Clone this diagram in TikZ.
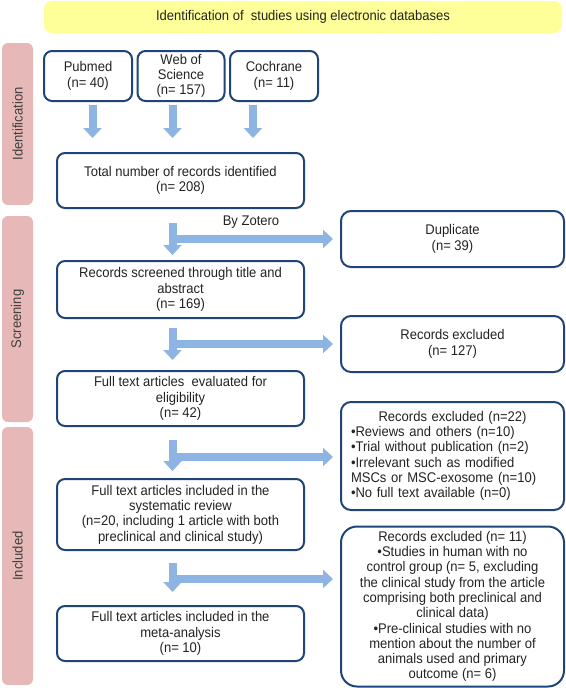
\documentclass[tikz,border=0pt]{standalone}
\usepackage{fontspec}
\setmainfont{Liberation Sans}[FakeStretch=0.93]
\usetikzlibrary{arrows.meta,calc}
\definecolor{boxblue}{RGB}{31,69,120}
\definecolor{arrowblue}{RGB}{141,180,226}
\definecolor{pinkbar}{RGB}{230,184,183}
\definecolor{bannery}{RGB}{255,255,153}
\definecolor{txt}{RGB}{35,35,35}
\begin{document}
\begin{tikzpicture}[x=1pt,y=-1pt,
  every node/.style={font=\fontsize{14}{15.3}\selectfont, text=txt},
  box/.style={draw=boxblue, line width=2pt, rounded corners=8pt, fill=white, align=center, inner sep=2pt},
  lbox/.style={box, minimum width=247pt},
  rbox/.style={box, minimum width=223pt, rounded corners=10pt},
  srcbox/.style={box, minimum height=50pt},
  barrow/.style={draw=arrowblue, line width=8pt, -{Triangle[width=18pt,length=10pt]}},
  sidebar/.style={fill=pinkbar, rounded corners=6pt, rotate=90, text=black!75, inner sep=0pt, minimum height=31pt},
  banner/.style={fill=bannery, rounded corners=8pt, minimum width=518pt, minimum height=32pt, inner sep=0pt}
]
\useasboundingbox (0,0) rectangle (565,688);

% banner
\node[banner] (ban) at (303,17) {Identification of\ \ studies using electronic databases};

% side bars
\node[sidebar, minimum width=162pt] (sid) at (17.5,124) {Identification};
\node[sidebar, minimum width=206pt] (sscr) at (17.5,319) {Screening};
\node[sidebar, minimum width=258pt] (sinc) at (17.5,556) {Included};

% sources
\node[srcbox, minimum width=88pt] (pub) at (88,76) {Pubmed\\(n= 40)};
\node[srcbox, minimum width=87pt] (wos) at (181,76) {Web of\\Science\\(n= 157)};
\node[srcbox, minimum width=88pt] (coch) at (274,76) {Cochrane\\(n= 11)};

% left column
\node[lbox, minimum height=55pt] (tot) at (180.5,180.5) {Total number of records identified\\(n= 208)};
\node[lbox, minimum height=57pt] (scr) at (180.5,289.5) {Records screened through title and\\abstract\\(n= 169)};
\node[lbox, minimum height=55pt] (eval) at (180.5,398.5) {Full text articles\ \ evaluated for\\eligibility\\(n= 42)};
\node[lbox, minimum height=71pt] (sys) at (180.5,514.5) {Full text articles included in the\\systematic review\\(n=20, including 1 article with both\\preclinical and clinical study)};
\node[lbox, minimum height=55pt] (meta) at (180.5,633.5) {Full text articles included in the\\meta-analysis\\(n= 10)};

% right column
\node[rbox, minimum height=56pt] (dup) at (452.5,239) {Duplicate\\(n= 39)};
\node[rbox, minimum height=56pt] (ex1) at (452.5,344) {Records excluded\\(n= 127)};
\node[rbox, minimum height=108pt, text width=203pt, align=left] (ex2) at (452.5,456)
  {\hspace*{\fill}Records excluded (n=22)\hspace*{\fill}\null\\
   •Reviews and others (n=10)\\
   •Trial without publication (n=2)\\
   •Irrelevant such as modified\\
   MSCs or MSC-exosome (n=10)\\
   •No full text available (n=0)};
\node[rbox, minimum height=160pt, rounded corners=16pt] (ex3) at (452.5,606.5)
  {Records excluded (n= 11)\\
   •Studies in human with no\\
   control group (n= 5, excluding\\
   the clinical study from the article\\
   comprising both preclinical and\\
   clinical data)\\
   •Pre-clinical studies with no\\
   mention about the number of\\
   animals used and primary\\
   outcome (n= 6)};

\node (zot) at (251,222) {By Zotero};

% down arrows from sources
\coordinate (c1) at (92.5,0);
\coordinate (c2) at (172.5,0);
\coordinate (c3) at (253,0);
\draw[barrow] ($(pub.south -| c1)+(0,3)$) -- ($(tot.north -| c1)+(0,-14)$);
\draw[barrow] ($(wos.south -| c2)+(0,3)$) -- ($(tot.north -| c2)+(0,-14)$);
\draw[barrow] ($(coch.south -| c3)+(0,3)$) -- ($(tot.north -| c3)+(0,-14)$);

% L arrows
\coordinate (ax) at (172.5,0);
\coordinate (t1) at ($(tot.south -| ax)+(0,14)$);
\coordinate (b1) at ($(scr.north -| ax)+(0,-5)$);
\coordinate (h1) at ($(t1)+(0,16)$);
\coordinate (t2) at ($(scr.south -| ax)+(0,9)$);
\coordinate (b2) at ($(eval.north -| ax)+(0,-10)$);
\coordinate (h2) at ($(t2)+(0,16)$);
\coordinate (t3) at ($(eval.south -| ax)+(0,13)$);
\coordinate (b3) at ($(sys.north -| ax)+(0,-7)$);
\coordinate (h3) at ($(t3)+(0,17)$);
\coordinate (t4) at ($(sys.south -| ax)+(0,12)$);
\coordinate (b4) at ($(meta.north -| ax)+(0,-13)$);
\coordinate (h4) at ($(t4)+(0,16)$);

\draw[barrow] (t1) -- (b1);
\draw[barrow, shorten >=7pt] (h1) -- (h1 -| dup.west);
\draw[barrow] (t2) -- (b2);
\draw[barrow, shorten >=7pt] (h2) -- (h2 -| ex1.west);
\draw[barrow] (t3) -- (b3);
\draw[barrow, shorten >=7pt] (h3) -- (h3 -| ex2.west);
\draw[barrow] (t4) -- (b4);
\draw[barrow, shorten >=7pt] (h4) -- (h4 -| ex3.west);
\end{tikzpicture}
\end{document}
